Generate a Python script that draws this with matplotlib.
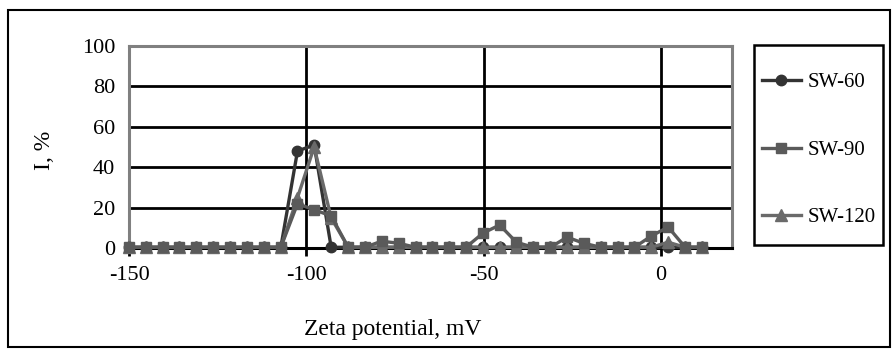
import matplotlib
matplotlib.use('Agg')
import matplotlib.pyplot as plt
from matplotlib.patches import Rectangle

plt.rcParams['font.family'] = ['Liberation Serif', 'DejaVu Serif']
plt.rcParams['axes.unicode_minus'] = False

# Zeta potential, mV
zeta = [-150, -145.2, -140.5, -135.8, -131, -126.2, -121.5, -116.8, -112, -107.2,
        -102.5, -97.8, -93, -88.2, -83.5, -78.8, -74, -69.2, -64.5, -59.8,
        -55, -50.2, -45.5, -40.8, -36, -31.2, -26.5, -21.8, -17, -12.2,
        -7.5, -2.8, 2, 6.8, 11.5]

sw60 = [0.5, 0.5, 0.5, 0.5, 0.5, 0.5, 0.5, 0.5, 0.5, 0.5,
        48, 51, 0.5, 0.5, 0.5, 0.5, 0.5, 0.5, 0.5, 0.5,
        0.5, 0.5, 0.5, 0.5, 0.5, 0.5, 0.5, 0.5, 0.5, 0.5,
        0.5, 0.5, 0.5, 0.5, 0.5]
sw90 = [0.5, 0.5, 0.5, 0.5, 0.5, 0.5, 0.5, 0.5, 0.5, 0.5,
        22, 19, 16, 0.5, 0.5, 3.5, 2.5, 0.5, 0.5, 0.5,
        0.5, 7.5, 11.5, 3, 0.5, 0.5, 5.5, 2.5, 0.5, 0.5,
        0.5, 6, 10.5, 0.5, 0.5]
sw120 = [0.5, 0.5, 0.5, 0.5, 0.5, 0.5, 0.5, 0.5, 0.5, 0.5,
         25, 50, 15, 0.5, 0.5, 0.5, 0.5, 0.5, 0.5, 0.5,
         0.5, 0.5, 0.5, 0.5, 0.5, 0.5, 0.5, 0.5, 0.5, 0.5,
         0.5, 0.5, 3, 0.5, 0.5]

labels = ['SW-60', 'SW-90', 'SW-120']
xticks = [-150, -100, -50, 0]
yticks = [0, 20, 40, 60, 80, 100]

W, H = 893, 350
fig = plt.figure(figsize=(W / 100, H / 100), dpi=100)
ax = fig.add_axes([129 / W, 1 - 248.3 / H, (732 - 129) / W, (248.3 - 45.7) / H])

ax.plot(zeta, sw60, color='#333333', marker='o', ms=7.5, lw=2.4, zorder=3, clip_on=False, label=labels[0])
ax.plot(zeta, sw120, color='#6a6a6a', marker='^', ms=8, lw=2.4, zorder=4, clip_on=False, label=labels[2])
ax.plot(zeta, sw90, color='#5a5a5a', marker='s', ms=7.5, lw=2.4, zorder=5, clip_on=False, label=labels[1])

ax.set_xlim(-150, 20)
ax.set_ylim(0, 100)
ax.set_xticks(xticks)
ax.set_yticks(yticks)
ax.grid(True, color='black', lw=2, zorder=1)
ax.set_axisbelow(True)

for s in ['left', 'right', 'top']:
    ax.spines[s].set_color('#808080')
    ax.spines[s].set_linewidth(2.2)
ax.spines['bottom'].set_color('black')
ax.spines['bottom'].set_linewidth(2.2)

ax.tick_params(axis='x', direction='out', length=6, width=2, pad=7, labelsize=16)
ax.tick_params(axis='y', length=0, pad=10, labelsize=16)

fig.text(393 / W, 1 - 329 / H, 'Zeta potential, mV', ha='center', va='center', fontsize=17)
fig.text(44 / W, 1 - 150 / H, 'I, %', ha='center', va='center', rotation=90, fontsize=17)

# legend box
fig.patches.append(Rectangle((754 / W, 1 - 245 / H), (883 - 754) / W, 200 / H,
                             transform=fig.transFigure, fill=False, ec='black', lw=1.8))
h, l = ax.get_legend_handles_labels()
order = [0, 2, 1]
fig.legend([h[i] for i in order], [l[i] for i in order], loc='center',
           bbox_to_anchor=(818.5 / W, 1 - 150 / H), frameon=False, fontsize=15,
           handlelength=1.9, handletextpad=0.3, labelspacing=2.3)

# outer frame
fig.patches.append(Rectangle((8 / W, 3 / H), 882 / W, 337 / H,
                             transform=fig.transFigure, fill=False, ec='black', lw=1.5))

fig.savefig('out.png', dpi=100)
